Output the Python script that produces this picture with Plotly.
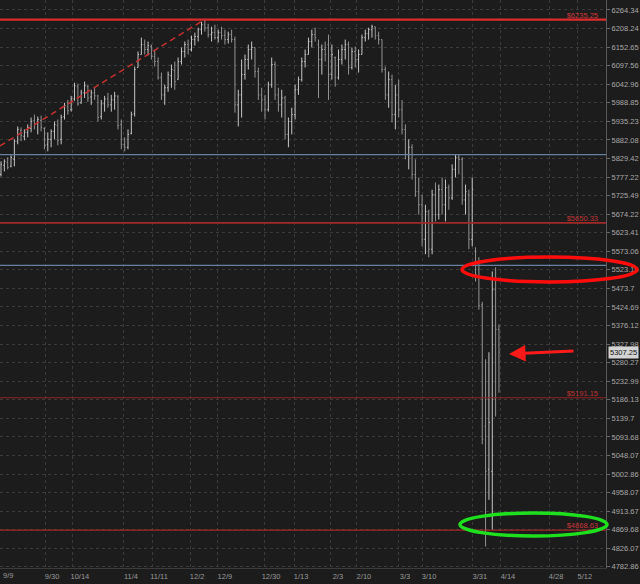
import math
import plotly.graph_objects as go

# ---------------- data ----------------
bar_index = list(range(150))

opens = [5784.5, 5810.0, 5818.5, 5807.2, 5827.0, 5878.1, 5909.3, 5892.3, 5903.6, 5915.0,
         5937.6, 5929.1, 5937.6, 5915.0, 5869.6, 5883.8, 5906.4, 5923.5, 5883.8, 5949.0,
         5977.3, 5968.8, 6000.0, 6035.6, 5988.7, 6017.8, 6035.6, 6005.9, 6017.8, 6008.9,
         5949.0, 5985.9, 6000.0, 5983.0, 5997.2, 6005.9, 5926.3, 5869.6, 5861.1, 5900.8,
         5957.5, 6092.0, 6130.6, 6160.3, 6145.5, 6154.4, 6124.7, 6109.9, 6062.3, 6011.8,
         6032.6, 6068.3, 6083.1, 6056.4, 6109.9, 6139.6, 6160.3, 6145.5, 6175.2, 6184.1,
         6204.9, 6219.7, 6210.8, 6190.0, 6196.0, 6181.1, 6196.0, 6187.1, 6175.2, 6190.0,
         6175.2, 5983.0, 6011.8, 6071.2, 6115.8, 6145.5, 6151.4, 6080.2, 6011.8, 5997.2,
         5968.8, 6041.5, 6100.9, 6011.8, 5983.0, 6002.9, 5897.9, 5934.8, 5954.7, 6026.7,
         6056.4, 6109.9, 6130.6, 6169.3, 6190.0, 6160.3, 6115.8, 6145.5, 6160.3, 6071.2,
         6121.7, 6062.3, 6115.8, 6145.5, 6160.3, 6092.0, 6139.6, 6115.8, 6130.6, 6181.1,
         6193.0, 6204.9, 6213.8, 6187.1, 6175.2, 6086.1, 6011.8, 6056.4, 5954.7, 6011.8,
         5968.8, 5912.1, 5841.2, 5861.1, 5784.5, 5736.3, 5700.1, 5605.5, 5681.2, 5578.5,
         5727.8, 5673.1, 5742.0, 5700.1, 5747.6, 5719.3, 5798.7, 5832.7, 5827.0, 5713.6,
         5727.8, 5605.5, 5573.1, 5524.5, 5430.5, 5119.7, 5014.2, 5009.3, 5470.4, 5366.1]

highs = [5821.4, 5827.0, 5832.7, 5838.4, 5883.8, 5920.6, 5917.8, 5912.1, 5926.3, 5946.2,
         5954.7, 5949.0, 5951.8, 5917.8, 5903.6, 5912.1, 5934.8, 5940.5, 5954.7, 5988.7,
         5997.2, 6008.9, 6047.5, 6044.5, 6026.7, 6050.5, 6041.5, 6026.7, 6032.6, 6011.8,
         5997.2, 6008.9, 6017.8, 6011.8, 6020.8, 6011.8, 5940.5, 5889.4, 5912.1, 5963.2,
         6095.0, 6139.6, 6181.1, 6175.2, 6169.3, 6160.3, 6145.5, 6121.7, 6077.2, 6041.5,
         6080.2, 6100.9, 6109.9, 6121.7, 6151.4, 6169.3, 6175.2, 6187.1, 6196.0, 6210.8,
         6228.7, 6237.6, 6222.7, 6213.8, 6219.7, 6204.9, 6213.8, 6204.9, 6199.0, 6204.9,
         6184.1, 6026.7, 6115.8, 6130.6, 6160.3, 6169.3, 6151.4, 6092.0, 6032.6, 6011.8,
         6050.5, 6121.7, 6109.9, 6032.6, 6026.7, 6008.9, 5946.2, 5974.5, 6041.5, 6065.3,
         6121.7, 6145.5, 6181.1, 6204.9, 6210.8, 6175.2, 6160.3, 6169.3, 6190.0, 6160.3,
         6124.7, 6145.5, 6160.3, 6175.2, 6169.3, 6151.4, 6154.4, 6145.5, 6190.0, 6204.9,
         6210.8, 6219.7, 6213.8, 6199.0, 6175.2, 6095.0, 6080.2, 6071.2, 6041.5, 6056.4,
         5997.2, 5926.3, 5883.8, 5869.6, 5827.0, 5776.0, 5727.8, 5700.1, 5686.6, 5742.0,
         5761.8, 5756.1, 5776.0, 5770.3, 5756.1, 5812.9, 5841.2, 5841.2, 5832.7, 5756.1,
         5742.0, 5776.0, 5583.9, 5556.9, 5438.2, 5288.9, 5306.9, 5519.0, 5529.9, 5379.0]

lows = [5778.8, 5793.0, 5798.7, 5804.4, 5807.2, 5869.6, 5878.1, 5880.9, 5889.4, 5903.6,
        5912.1, 5897.9, 5906.4, 5855.4, 5849.7, 5861.1, 5883.8, 5866.7, 5869.6, 5940.5,
        5954.7, 5963.2, 5994.4, 5980.2, 5985.9, 6002.9, 5991.5, 5983.0, 5997.2, 5934.8,
        5940.5, 5963.2, 5974.5, 5963.2, 5968.8, 5912.1, 5855.4, 5849.7, 5855.4, 5897.9,
        5949.0, 6092.0, 6130.6, 6130.6, 6127.7, 6115.8, 6095.0, 6056.4, 5997.2, 5983.0,
        6020.8, 6032.6, 6026.7, 6056.4, 6100.9, 6121.7, 6130.6, 6139.6, 6157.4, 6169.3,
        6190.0, 6199.0, 6181.1, 6169.3, 6175.2, 6166.3, 6175.2, 6160.3, 6163.3, 6166.3,
        5960.3, 5920.6, 5946.2, 6056.4, 6086.1, 6115.8, 6062.3, 5997.2, 5963.2, 5940.5,
        5963.2, 6032.6, 5997.2, 5963.2, 5946.2, 5883.8, 5861.1, 5897.9, 5940.5, 6011.8,
        6050.5, 6092.0, 6130.6, 6151.4, 6169.3, 6002.9, 6071.2, 6109.9, 5997.2, 6056.4,
        6035.6, 6056.4, 6100.9, 6115.8, 6071.2, 6086.1, 6092.0, 6077.2, 6130.6, 6169.3,
        6175.2, 6181.1, 6175.2, 6160.3, 6077.2, 5997.2, 5974.5, 5932.0, 5912.1, 5946.2,
        5897.9, 5827.0, 5798.7, 5770.3, 5722.1, 5673.1, 5586.6, 5565.0, 5556.9, 5565.0,
        5654.2, 5659.6, 5673.1, 5654.2, 5686.6, 5713.6, 5776.0, 5784.5, 5700.1, 5673.1,
        5578.5, 5586.6, 5492.0, 5417.6, 5075.5, 4830.3, 4940.6, 4870.2, 5144.2, 5203.9]

closes = [5812.9, 5821.4, 5804.4, 5832.7, 5878.1, 5912.1, 5895.1, 5903.6, 5917.8, 5934.8,
          5926.3, 5940.5, 5917.8, 5866.7, 5883.8, 5906.4, 5926.3, 5880.9, 5946.2, 5980.2,
          5966.0, 6000.0, 6038.6, 5985.9, 6017.8, 6038.6, 6002.9, 6017.8, 6008.9, 5946.2,
          5985.9, 6000.0, 5983.0, 5997.2, 6008.9, 5923.5, 5869.6, 5861.1, 5897.9, 5954.7,
          6086.1, 6130.6, 6160.3, 6145.5, 6157.4, 6124.7, 6109.9, 6062.3, 6011.8, 6032.6,
          6071.2, 6086.1, 6050.5, 6109.9, 6139.6, 6160.3, 6145.5, 6175.2, 6184.1, 6204.9,
          6219.7, 6210.8, 6190.0, 6196.0, 6181.1, 6196.0, 6187.1, 6175.2, 6190.0, 6175.2,
          5983.0, 6011.8, 6071.2, 6115.8, 6145.5, 6151.4, 6080.2, 6011.8, 5997.2, 5968.8,
          6041.5, 6100.9, 6011.8, 5983.0, 6002.9, 5897.9, 5934.8, 5954.7, 6026.7, 6056.4,
          6109.9, 6130.6, 6169.3, 6190.0, 6181.1, 6115.8, 6145.5, 6130.6, 6071.2, 6130.6,
          6062.3, 6115.8, 6145.5, 6160.3, 6092.0, 6139.6, 6115.8, 6130.6, 6181.1, 6193.0,
          6204.9, 6213.8, 6187.1, 6175.2, 6086.1, 6011.8, 6056.4, 5954.7, 6011.8, 5968.8,
          5912.1, 5841.2, 5861.1, 5784.5, 5736.3, 5700.1, 5605.5, 5681.2, 5578.5, 5727.8,
          5673.1, 5742.0, 5700.1, 5747.6, 5719.3, 5798.7, 5832.7, 5827.0, 5713.6, 5736.3,
          5605.5, 5742.0, 5510.9, 5427.9, 5087.8, 5009.3, 5129.5, 5470.4, 5366.1, 5307.25]

y_tick_values = [6264.34, 6208.24, 6152.65, 6097.56, 6042.96, 5988.85, 5935.23, 5882.08,
                 5829.42, 5777.22, 5725.49, 5674.22, 5623.41, 5573.06, 5523.16, 5473.7,
                 5424.69, 5376.12, 5327.98, 5280.27, 5232.99, 5186.13, 5139.7, 5093.68,
                 5048.07, 5002.86, 4958.07, 4913.67, 4869.68, 4826.07, 4782.86]
y_tick_labels = ["6264.34", "6208.24", "6152.65", "6097.56", "6042.96", "5988.85", "5935.23",
                 "5882.08", "5829.42", "5777.22", "5725.49", "5674.22", "5623.41", "5573.06",
                 "5523.16", "5473.7", "5424.69", "5376.12", "5327.98", "5280.27", "5232.99",
                 "5186.13", "5139.7", "5093.68", "5048.07", "5002.86", "4958.07", "4913.67",
                 "4869.68", "4826.07", "4782.86"]

x_tick_positions = [13.2, 21.5, 36.8, 45.2, 56.6, 64.9, 78.7, 87.7, 98.7, 106.5,
                    118.8, 126.0, 141.2, 149.6, 164.0, 172.6]
x_tick_labels = ["9/30", "10/14", "11/4", "11/11", "12/2", "12/9", "12/30", "1/13", "2/3",
                 "2/10", "3/3", "3/10", "3/31", "4/14", "4/28", "5/12"]
first_date_label = "9/9"

red_levels = [6235.25, 5650.33, 5191.15, 4868.63]
red_level_labels = ["$6235.25", "$5650.33", "$5191.15", "$4868.63"]
blue_levels = [5840.0, 5535.0]

trend_x = [-0.3, 61.0]
trend_y = [5864.8, 6236.1]

last_price = 5307.25

x_range = [-0.3, 181.03]
y_range_values = [4780.1, 6294.7]

# ---------------- styles ----------------
BG = "#1c1c1c"
GRID = "#3a3a3a"
FONT = "Liberation Sans"
red_level_colors = ["#dc2c2c", "#a52828", "#962424", "#c42828"]
red_level_widths = [2.2, 1.6, 1.0, 1.0]
red_label_colors = ["#d03a3a", "#c03434", "#c03434", "#c83636"]

fig = go.Figure()

# horizontal levels
for lvl in blue_levels:
    fig.add_trace(go.Scatter(x=x_range, y=[lvl, lvl], mode="lines",
                             line=dict(color="#6482a0", width=1.2), hoverinfo="skip"))
for lvl, col, w in zip(red_levels, red_level_colors, red_level_widths):
    fig.add_trace(go.Scatter(x=x_range, y=[lvl, lvl], mode="lines",
                             line=dict(color=col, width=w), hoverinfo="skip"))

# trend line
fig.add_trace(go.Scatter(x=trend_x, y=trend_y, mode="lines",
                         line=dict(color="#c83030", width=1.5, dash="6px,4px"),
                         hoverinfo="skip"))

# OHLC bars
fig.add_trace(go.Ohlc(x=bar_index, open=opens, high=highs, low=lows, close=closes,
                      increasing=dict(line=dict(color="#c6c6c6", width=1)),
                      decreasing=dict(line=dict(color="#949494", width=1)),
                      tickwidth=0.3, hoverinfo="skip"))

# level labels
label_x = x_range[0] + (x_range[1] - x_range[0]) * (598 / 606)
fig.add_trace(go.Scatter(x=[label_x] * len(red_levels), y=red_levels, mode="text",
                         text=red_level_labels, textposition="top left",
                         textfont=dict(family=FONT, size=7.5, color=red_label_colors),
                         hoverinfo="skip"))

# ellipses (paper coordinates; plot area is 606 x 568 px)
PW, PH = 606.0, 568.0
def px_x(p):
    return p / PW
def px_y(p):
    return (PH - p) / PH

fig.add_shape(type="circle", xref="paper", yref="paper",
              x0=px_x(462), x1=px_x(637), y0=px_y(282), y1=px_y(257),
              line=dict(color="#ff0d0d", width=3.5))
fig.add_shape(type="circle", xref="paper", yref="paper",
              x0=px_x(460), x1=px_x(607), y0=px_y(536), y1=px_y(513),
              line=dict(color="#1fe01f", width=3.5))

# red arrow
fig.add_annotation(xref="paper", yref="paper", x=px_x(509), y=px_y(354),
                   ax=66, ay=-3, text="", showarrow=True,
                   arrowhead=2, arrowsize=1.1, arrowwidth=3, arrowcolor="#ff1a1a")

# last price tag
fig.add_annotation(xref="paper", yref="paper", x=px_x(608), y=px_y(352),
                   xanchor="left", yanchor="middle", text=f"{last_price:.2f}",
                   showarrow=False, bgcolor="#d4d4d4", borderpad=1,
                   font=dict(family=FONT, size=7.5, color="#111111"))

# first date label at the left edge
fig.add_annotation(xref="paper", yref="paper", x=px_x(1), y=px_y(575),
                   xanchor="left", yanchor="middle", text=first_date_label,
                   showarrow=False, font=dict(family=FONT, size=7.5, color="#9a9a9a"))

fig.update_layout(
    width=640, height=584, autosize=False,
    margin=dict(l=0, r=34, t=0, b=16),
    paper_bgcolor=BG, plot_bgcolor=BG,
    showlegend=False, hovermode=False,
    font=dict(family=FONT, size=7.5, color="#a8a8a8"),
    xaxis=dict(range=x_range, tickmode="array", tickvals=x_tick_positions,
               ticktext=x_tick_labels, showgrid=True, gridcolor=GRID, griddash="dot",
               gridwidth=1, zeroline=False, showline=True, linecolor="#3c3c3c",
               ticks="", ticklabelshift=7, ticklabelstandoff=1,
               tickfont=dict(family=FONT, size=7.5, color="#9a9a9a"),
               rangeslider=dict(visible=False), fixedrange=True),
    yaxis=dict(type="log",
               range=[math.log10(y_range_values[0]), math.log10(y_range_values[1])],
               side="right", tickmode="array", tickvals=y_tick_values,
               ticktext=y_tick_labels, showgrid=True, gridcolor=GRID, griddash="dot",
               gridwidth=1, zeroline=False, showline=True, linecolor="#5a5a5a",
               ticks="outside", ticklen=3, tickcolor="#6a6a6a",
               tickfont=dict(family=FONT, size=7.5, color="#a8a8a8"), fixedrange=True),
)

fig.write_html("out.html", config={"displayModeBar": False},
               post_script="document.body.style.margin='0';")
